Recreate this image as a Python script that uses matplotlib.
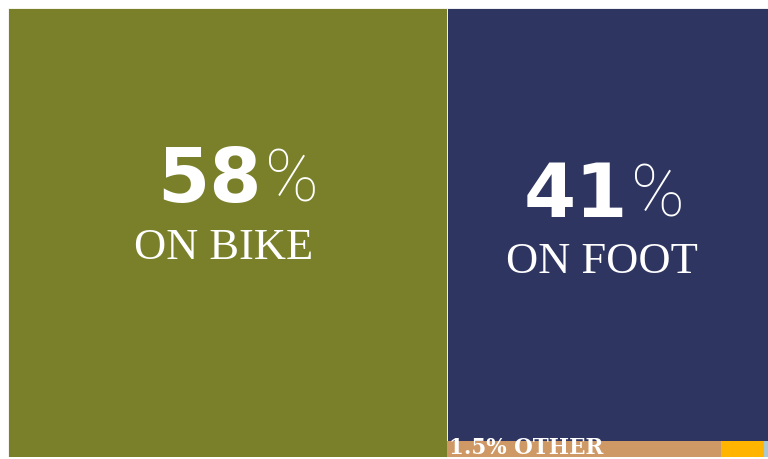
import matplotlib
matplotlib.use('Agg')
import matplotlib.pyplot as plt
from matplotlib.patches import Rectangle

# share of trips by mode (%)
modes = ['ON BIKE', 'ON FOOT', 'OTHER']
shares = [58, 41, 1.5]
share_labels = ['58', '41', '1.5']
# the 1.5% "other" strip, split into its pieces
other_parts = [1.28, 0.2, 0.02]

COLORS = ['#7a8029', '#2e3561']
OTHER_COLORS = ['#cf9966', '#ffb400', '#a9c9d2']

fig = plt.figure(figsize=(7.68, 4.59), dpi=100)
ax = fig.add_axes([8 / 768, 2 / 459, 760 / 768, 449 / 459])

total = sum(shares)
# treemap: bike takes a full-height column, the rest is stacked on the right
w_bike = shares[0] / total
w_rest = 1 - w_bike
rest = shares[1] + shares[2]
h_foot = shares[1] / rest
h_other = 1 - h_foot

ax.add_patch(Rectangle((0, 0), w_bike, 1, facecolor=COLORS[0], edgecolor='white', lw=0.6))
ax.add_patch(Rectangle((w_bike, h_other), w_rest, h_foot, facecolor=COLORS[1], edgecolor='white', lw=0.6))

x = w_bike
osum = sum(other_parts)
for v, c in zip(other_parts, OTHER_COLORS):
    w = w_rest * v / osum
    ax.add_patch(Rectangle((x, 0), w, h_other, facecolor=c, edgecolor='none'))
    x += w

ax.set_xlim(0, 1)
ax.set_ylim(0, 1)
ax.axis('off')

def big_label(xr, ynum, xw, yword, num, word, wsize):
    ax.text(xr, ynum, num, ha='right', va='baseline', color='white',
            fontsize=54, fontweight='bold', family='DejaVu Sans')
    ax.text(xr + 0.004, ynum, '%', ha='left', va='baseline', color='white',
            fontsize=52, fontweight='light', family='Roboto')
    ax.text(xw, yword, word, ha='center', va='baseline', color='white',
            fontsize=wsize, family='Liberation Serif')

big_label(0.334, 0.568, 0.284, 0.441, share_labels[0], modes[0], 32)
big_label(0.816, 0.535, 0.782, 0.410, share_labels[1], modes[1], 32)

ax.text(w_bike + 0.003, 0.006, share_labels[2] + '% ' + modes[2], ha='left', va='baseline',
        color='white', fontsize=15.5, fontweight='bold', family='DejaVu Serif')

fig.savefig('out.png', dpi=100)
plt.close()
